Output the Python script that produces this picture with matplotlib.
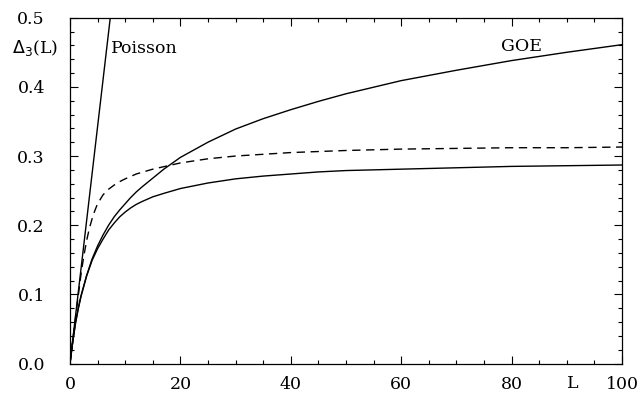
import matplotlib
matplotlib.use("Agg")
from matplotlib import pyplot as plt
from matplotlib.ticker import MultipleLocator
import numpy as np

# values
poisson_L = [0, 7.3]
poisson_d = [0, 0.5]

goe_L = [0, 0.5, 1, 1.5, 2, 3, 4, 5, 6, 7, 8, 9, 10, 11, 12, 13, 15, 17, 20, 25,
         30, 35, 40, 45, 50, 60, 70, 80, 90, 100]
goe_d = [0, 0.031, 0.059, 0.080, 0.098, 0.127, 0.151, 0.170, 0.186, 0.200, 0.212,
         0.222, 0.231, 0.240, 0.248, 0.255, 0.268, 0.281, 0.298, 0.320, 0.339,
         0.354, 0.367, 0.379, 0.390, 0.409, 0.424, 0.438, 0.450, 0.461]

low_L = [0, 0.5, 1, 1.5, 2, 3, 4, 5, 6, 7, 8, 9, 10, 11, 12, 13, 15, 17, 20, 25,
         30, 35, 40, 45, 50, 60, 70, 80, 90, 100]
low_d = [0, 0.031, 0.058, 0.079, 0.097, 0.126, 0.149, 0.166, 0.180, 0.193, 0.203,
         0.212, 0.219, 0.225, 0.230, 0.234, 0.241, 0.246, 0.253, 0.261, 0.267,
         0.271, 0.274, 0.277, 0.279, 0.281, 0.283, 0.285, 0.286, 0.287]

dash_L = [0, 0.5, 1, 1.5, 2, 2.5, 3, 3.5, 4, 4.5, 5, 6, 7, 8, 9, 10, 12, 15, 20,
          25, 30, 40, 50, 60, 70, 80, 90, 100]
dash_d = [0, 0.033, 0.066, 0.098, 0.129, 0.155, 0.177, 0.195, 0.209, 0.221, 0.231,
          0.244, 0.252, 0.258, 0.263, 0.267, 0.274, 0.281, 0.290, 0.296, 0.300,
          0.305, 0.308, 0.310, 0.311, 0.312, 0.312, 0.313]

plt.rcParams['font.family'] = ['DejaVu Serif']

fig = plt.figure(figsize=(6.39, 3.93), dpi=100)
ax = fig.add_axes([0.1095, 0.075, 0.864, 0.88])

ax.plot(poisson_L, poisson_d, color='black', lw=1.0)
ax.plot(goe_L, goe_d, color='black', lw=1.0)
ax.plot(low_L, low_d, color='black', lw=1.0)
ax.plot(dash_L, dash_d, color='black', lw=1.0, dashes=(6, 4))

ax.set_xlim(0, 100)
ax.set_ylim(0, 0.5)
ax.xaxis.set_major_locator(MultipleLocator(20))
ax.xaxis.set_minor_locator(MultipleLocator(5))
ax.yaxis.set_major_locator(MultipleLocator(0.1))
ax.yaxis.set_minor_locator(MultipleLocator(0.02))
ax.set_xticks([0, 20, 40, 60, 80, 100])
ax.set_xticklabels(['0', '20', '40', '60', '80', '100'])
ax.tick_params(which='both', direction='in', top=True, right=True, width=0.8)
ax.tick_params(which='major', length=6, labelsize=12.5)
ax.tick_params(which='minor', length=3)
ax.tick_params(axis='y', pad=18)
ax.tick_params(axis='x', pad=9)
for s in ax.spines.values():
    s.set_linewidth(0.9)

ax.text(7.4, 0.456, 'Poisson', fontsize=12.5, va='center', ha='left')
ax.text(78.0, 0.458, 'GOE', fontsize=12.5, va='center', ha='left')
fig.text(12 / 639, 1 - 48 / 393, r'$\Delta_3$(L)', fontsize=12.5, va='center', ha='left')
ax.text(91, -0.0285, 'L', fontsize=12.5, va='center', ha='center')

fig.savefig('out.png', dpi=100)
